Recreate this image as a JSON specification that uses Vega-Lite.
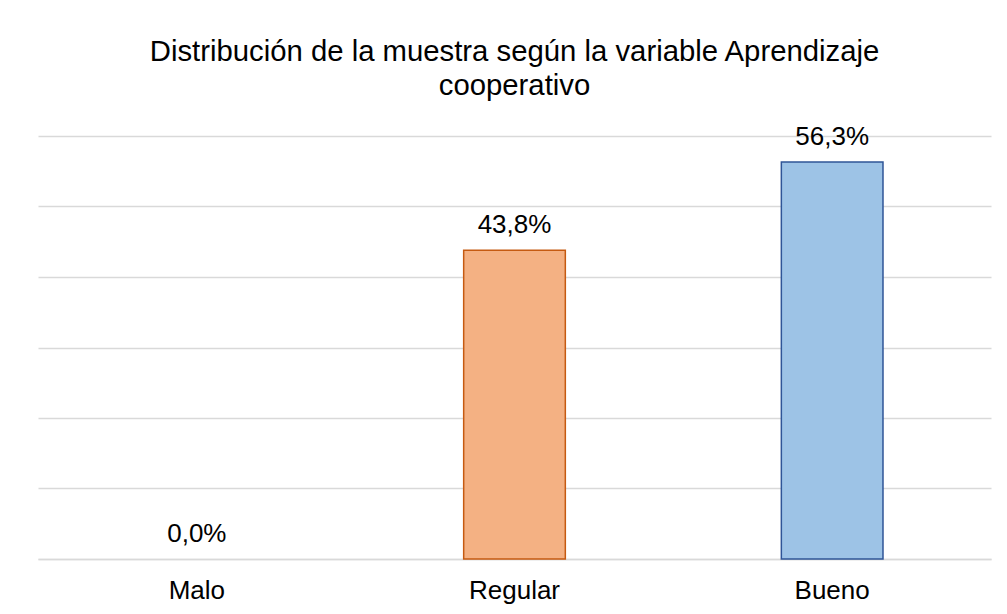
{
  "$schema": "https://vega.github.io/schema/vega-lite/v6.json",
  "width": 953,
  "height": 423,
  "autosize": {"type": "none"},
  "padding": {"left": 38, "top": 136, "right": 16, "bottom": 55},
  "background": "white",
  "config": {
    "font": "Liberation Sans",
    "view": {"stroke": null},
    "locale": {"number": {"decimal": ",", "thousands": ".", "grouping": [3], "currency": ["", " €"]}}
  },
  "title": {
    "text": ["Distribución de la muestra según la variable Aprendizaje", "cooperativo"],
    "font": "Liberation Sans",
    "fontSize": 29.3,
    "fontWeight": "normal",
    "color": "#000000",
    "anchor": "middle",
    "lineHeight": 33.5,
    "offset": 23
  },
  "data": {
    "values": [
      {"nivel": "Malo", "pct": 0.0},
      {"nivel": "Regular", "pct": 0.438},
      {"nivel": "Bueno", "pct": 0.563}
    ]
  },
  "encoding": {
    "x": {
      "field": "nivel",
      "type": "nominal",
      "sort": ["Malo", "Regular", "Bueno"],
      "scale": {"paddingInner": 0.68, "paddingOuter": 0.34},
      "axis": {
        "title": null,
        "labelAngle": 0,
        "labelFontSize": 26,
        "labelColor": "#000000",
        "labelFont": "Liberation Sans",
        "labelPadding": 18,
        "ticks": false,
        "domainColor": "#D9D9D9",
        "domainWidth": 1.5,
        "grid": false
      }
    },
    "y": {
      "field": "pct",
      "type": "quantitative",
      "scale": {"domain": [0, 0.6], "nice": false},
      "axis": {
        "title": null,
        "values": [0, 0.1, 0.2, 0.3, 0.4, 0.5, 0.6],
        "labels": false,
        "ticks": false,
        "domain": false,
        "grid": true,
        "gridColor": "#D9D9D9",
        "gridWidth": 1.5
      }
    }
  },
  "layer": [
    {
      "mark": {"type": "bar", "strokeWidth": 1.5},
      "encoding": {
        "color": {
          "field": "nivel",
          "type": "nominal",
          "scale": {"domain": ["Malo", "Regular", "Bueno"], "range": ["transparent", "#F4B183", "#9DC3E6"]},
          "legend": null
        },
        "stroke": {
          "field": "nivel",
          "type": "nominal",
          "scale": {"domain": ["Malo", "Regular", "Bueno"], "range": ["transparent", "#C55A11", "#2F5597"]},
          "legend": null
        }
      }
    },
    {
      "mark": {"type": "text", "baseline": "alphabetic", "dy": -17, "fontSize": 26, "color": "#000000", "font": "Liberation Sans"},
      "encoding": {
        "text": {"field": "pct", "type": "quantitative", "format": ".1%"}
      }
    }
  ]
}
